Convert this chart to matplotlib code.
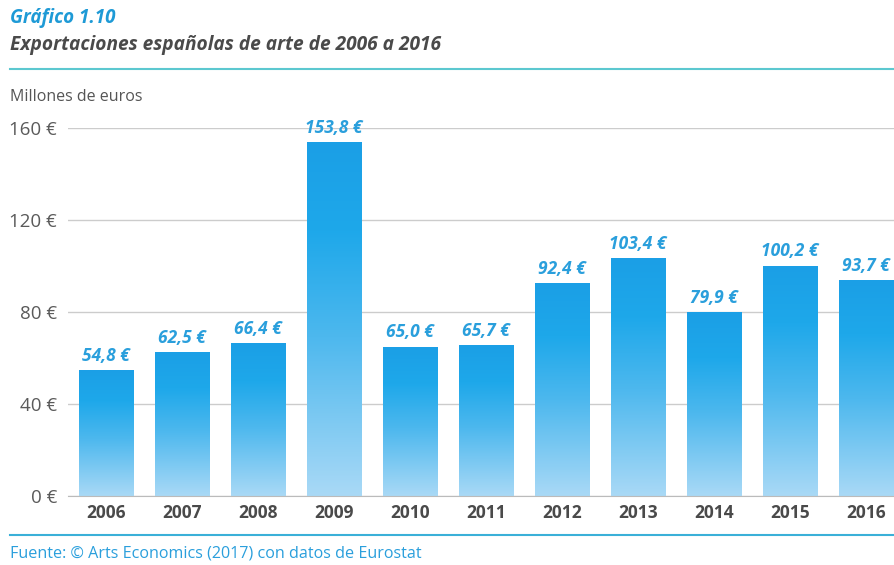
# -*- coding: utf-8 -*-
# exportaciones españolas de arte 2006-2016, barras con degradado

import matplotlib
matplotlib.use("Agg")
import matplotlib.pyplot as plt
import numpy as np
from matplotlib.colors import LinearSegmentedColormap

years = ["2006", "2007", "2008", "2009", "2010", "2011",
         "2012", "2013", "2014", "2015", "2016"]
values = [54.8, 62.5, 66.4, 153.8, 65.0, 65.7, 92.4, 103.4, 79.9, 100.2, 93.7]
y_ticks = [0, 40, 80, 120, 160]

plt.rcParams['font.family'] = ['Open Sans', 'DejaVu Sans']

blue = '#2a9fdc'
dark = '#4a4a4a'

fig = plt.figure(figsize=(8.95, 5.65), dpi=100)
ax = fig.add_axes([68 / 895, 1 - 496 / 565, 1 - 68 / 895, (496 - 128) / 565])

x = np.arange(len(years))
bars = ax.bar(x, values, width=0.72, color='none', zorder=2)

# degradado: arriba azul intenso, abajo azul claro
cmap = LinearSegmentedColormap.from_list(
    'grad', [(0.0, '#a9d9f6'), (0.45, '#4db8ee'), (0.75, '#1ea8ea'), (1.0, '#1b9fe6')])
grad = np.linspace(0, 1, 256).reshape(-1, 1)
for b in bars:
    x0, w, h = b.get_x(), b.get_width(), b.get_height()
    im = ax.imshow(grad, extent=[x0, x0 + w, 0, h], origin='lower',
                   aspect='auto', cmap=cmap, zorder=2)
    im.set_clip_path(b)

for xi, v in zip(x, values):
    ax.text(xi, v + 2.3, f"{v:.1f} €".replace('.', ','), ha='center', va='bottom',
            color=blue, fontsize=12.5, fontweight='bold', fontstyle='italic',
            clip_on=False)

ax.set_xlim(-0.5, 10.38)
ax.set_ylim(0, 160)
ax.set_yticks(y_ticks)
ax.set_yticklabels([f"{t} €" for t in y_ticks])
ax.set_xticks(x)
ax.set_xticklabels(years, fontweight='bold')
ax.tick_params(axis='y', length=0, pad=8, labelsize=13.5, labelcolor='#5a5a5a')
ax.tick_params(axis='x', length=0, pad=6, labelsize=12.5, labelcolor=dark)
ax.grid(axis='y', color='#cccccc', linewidth=1, zorder=0)
ax.set_axisbelow(True)
for s in ['top', 'right', 'left']:
    ax.spines[s].set_visible(False)
ax.spines['bottom'].set_color('#bbbbbb')
ax.set_aspect('auto')

# titulos
fig.text(10 / 895, 1 - 18 / 565, "Gráfico 1.10", color='#1e9ad6', fontsize=13.5,
         fontweight='bold', fontstyle='italic', va='center')
fig.text(10 / 895, 1 - 45 / 565, "Exportaciones españolas de arte de 2006 a 2016",
         color=dark, fontsize=13.8, fontweight='bold', fontstyle='italic', va='center')
fig.add_artist(plt.Line2D([10 / 895, 1], [1 - 69 / 565] * 2, color='#5cc8d0',
                          linewidth=1.5))
fig.text(10 / 895, 1 - 97 / 565, "Millones de euros", color='#555555',
         fontsize=11.5, va='center')

fig.add_artist(plt.Line2D([10 / 895, 1], [1 - 535 / 565] * 2, color='#3ab0d8',
                          linewidth=1.5))
fig.text(10 / 895, 1 - 554 / 565, "Fuente: © Arts Economics (2017) con datos de Eurostat",
         color='#2a9fdc', fontsize=11.6, va='center')

plt.savefig('out.png', dpi=100)
